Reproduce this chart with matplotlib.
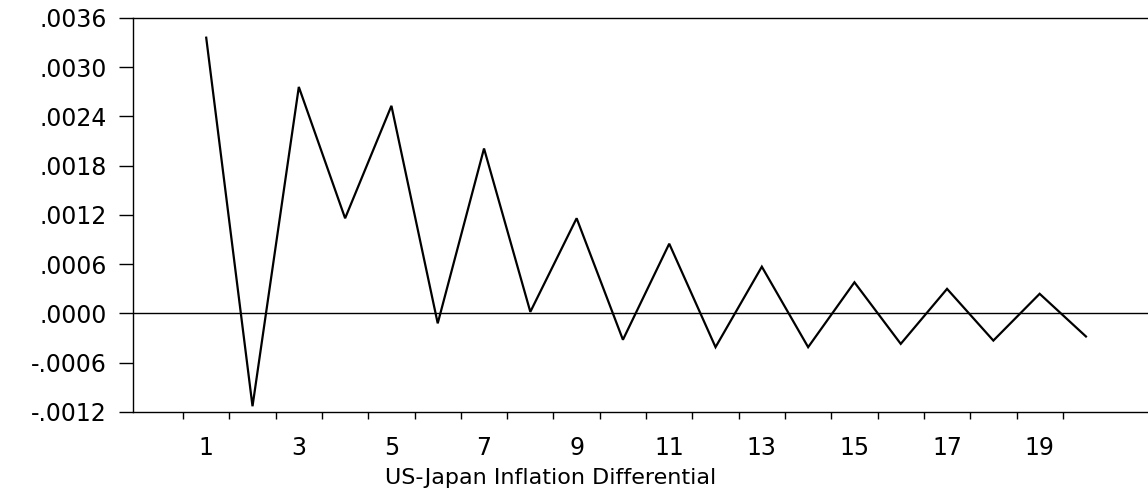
import matplotlib
matplotlib.use("Agg")
import matplotlib.pyplot as plt
from matplotlib.ticker import FixedLocator

# impulse response, periods 1..20
periods = list(range(1, 21))
response = [0.00336, -0.00113, 0.00276, 0.00116, 0.00253,
            -0.00012, 0.00201, 0.00002, 0.00116, -0.00032,
            0.00085, -0.00041, 0.00057, -0.00041, 0.00038,
            -0.00037, 0.00030, -0.00033, 0.00024, -0.00028]

ytick_vals = [-0.0012, -0.0006, 0.0, 0.0006, 0.0012, 0.0018, 0.0024, 0.0030, 0.0036]
ytick_labels = ["-.0012", "-.0006", ".0000", ".0006", ".0012", ".0018", ".0024", ".0030", ".0036"]
xtick_vals = [1, 3, 5, 7, 9, 11, 13, 15, 17, 19]
xlabel = "US-Japan Inflation Differential"

plt.rcParams["font.family"] = "DejaVu Sans"

fig = plt.figure(figsize=(11.48, 4.98), dpi=100)
ax = fig.add_axes([0.1159, 0.1727, 0.8841, 0.7912])

ax.plot(periods, response, color="black", linewidth=1.6, solid_joinstyle="miter")
ax.axhline(0, color="black", linewidth=1.0)

ax.set_xlim(-0.58, 21.34)
ax.set_ylim(-0.0012, 0.0036)

ax.set_yticks(ytick_vals)
ax.set_yticklabels(ytick_labels)
ax.set_xticks(xtick_vals)
ax.set_xticklabels([str(v) for v in xtick_vals])
ax.xaxis.set_minor_locator(FixedLocator([p - 0.5 for p in periods]))

ax.tick_params(axis="y", direction="out", length=10, width=1.0, pad=9, labelsize=17)
ax.tick_params(axis="x", which="major", length=0, pad=17, labelsize=17)
ax.tick_params(axis="x", which="minor", direction="out", length=5, width=1.0)

ax.spines["right"].set_visible(False)
for side in ("left", "top", "bottom"):
    ax.spines[side].set_linewidth(1.0)

ax.set_xlabel(xlabel, fontsize=16)
ax.xaxis.set_label_coords(0.411, -0.1675)
ax.xaxis.label.set_verticalalignment("center")

fig.savefig("out.png", dpi=100)
